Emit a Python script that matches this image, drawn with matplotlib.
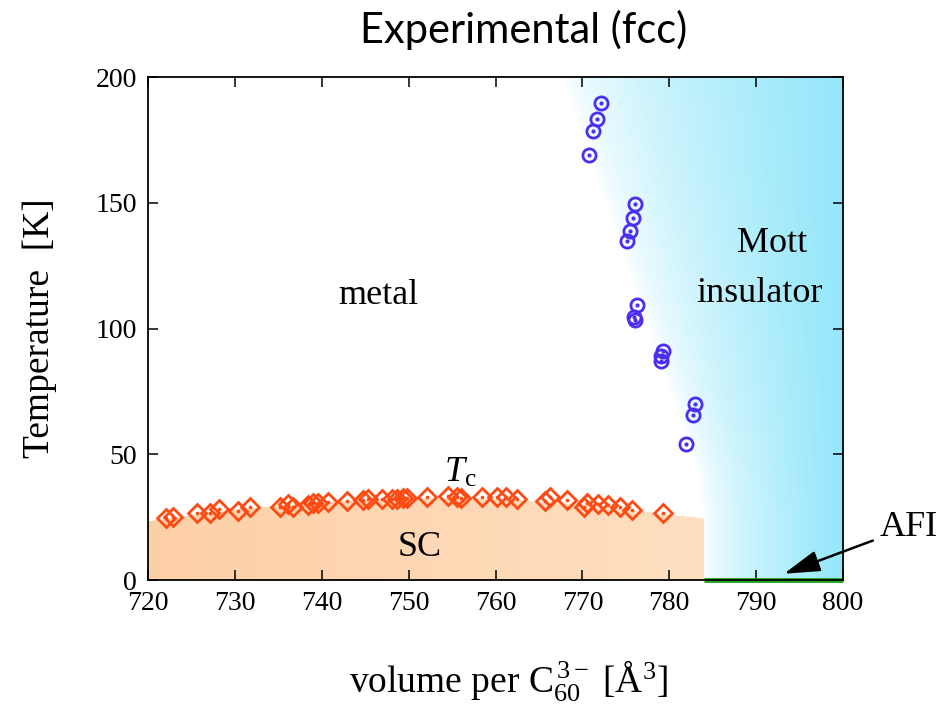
import numpy as np
import matplotlib
matplotlib.use("Agg")
import matplotlib.pyplot as plt
from matplotlib.patches import Polygon

plt.rcParams['font.family'] = ['Liberation Serif', 'DejaVu Serif']
plt.rcParams['mathtext.fontset'] = 'custom'
plt.rcParams['mathtext.rm'] = 'Liberation Serif'
plt.rcParams['mathtext.it'] = 'Liberation Serif:italic'

# Tc (diamonds)
sc_vol = [722.1, 722.9, 725.6, 727.1, 728.2, 730.4, 731.7, 735.2, 736.1, 736.7,
          738.4, 739.0, 739.6, 740.7, 742.9, 744.7, 745.3, 746.9, 748.1, 748.7,
          749.3, 749.8, 752.1, 754.5, 755.6, 756.0, 758.4, 760.2, 761.2, 762.5,
          765.7, 766.3, 768.2, 770.2, 770.5, 771.8, 772.9, 774.3, 775.7, 779.3]
sc_tc = [24.7, 25.0, 26.6, 26.6, 28.2, 27.4, 29.0, 29.0, 30.2, 29.0,
         29.8, 30.6, 30.6, 31.0, 31.4, 31.8, 32.2, 32.2, 32.2, 32.2,
         32.6, 32.6, 33.0, 33.4, 33.0, 32.6, 33.0, 33.0, 33.0, 32.2,
         31.4, 33.0, 31.8, 29.0, 30.6, 30.2, 29.8, 29.0, 27.8, 26.6]

# metal-insulator transition (circles)
mit_vol = [772.1, 771.7, 771.2, 770.8, 776.1, 775.8, 775.5, 775.1,
           776.3, 776.0, 775.9, 779.3, 779.1, 779.0, 783.0, 782.7, 781.9]
mit_t = [189.8, 183.2, 178.7, 169.0, 149.5, 144.1, 138.9, 134.9,
         109.3, 103.4, 104.4, 91.2, 89.1, 87.2, 69.9, 65.6, 54.1]

# phase boundaries
sc_edge_vol = [720, 722, 730, 740, 750, 760, 770, 780, 784]
sc_edge_t = [23.3, 24.3, 28.0, 31.0, 32.3, 32.3, 30.0, 26.0, 24.5]
mott_edge_t = [0, 24, 44, 200]
mott_edge_vol = [784.0, 784.0, 783.3, 767.7]

W, H = 943, 707
fig = plt.figure(figsize=(W / 100, H / 100), dpi=100)
ax = fig.add_axes([0.157, 0.1796, 0.737, 0.7114])

# Mott insulator region: white -> cyan gradient away from the boundary
vv, tt = np.meshgrid(np.linspace(720, 800, 800), np.linspace(0, 200, 400))
vb = np.interp(tt, mott_edge_t, mott_edge_vol)
frac = np.clip((vv - vb) / (800 - vb), 0, 1) ** 0.65
cyan = np.array([0.58, 0.905, 0.98])
img = np.ones(vv.shape + (3,)) * (1 - frac[..., None]) + cyan * frac[..., None]
mott_poly = Polygon(list(zip(mott_edge_vol[::-1], mott_edge_t[::-1])) + [(800, 0), (800, 200)],
                    closed=True, transform=ax.transData, facecolor='none', edgecolor='none')
ax.add_patch(mott_poly)
im = ax.imshow(img, extent=[720, 800, 0, 200], origin='lower', aspect='auto',
               interpolation='bilinear', zorder=0)
im.set_clip_path(mott_poly)

# SC dome, light peach with slight horizontal gradient
sc_poly = Polygon([(720, 0)] + list(zip(sc_edge_vol, sc_edge_t)) + [(784, 0)],
                  closed=True, transform=ax.transData, facecolor='none', edgecolor='none')
ax.add_patch(sc_poly)
g = np.linspace(0, 1, 400)[None, :, None]
left = np.array([0.992, 0.815, 0.655])
right = np.array([1.0, 0.875, 0.755])
sc_img = np.repeat(left * (1 - g) + right * g, 2, axis=0)
im2 = ax.imshow(sc_img, extent=[720, 784, 0, 40], origin='lower', aspect='auto',
                interpolation='bilinear', zorder=0.5)
im2.set_clip_path(sc_poly)
ax.set_xlim(720, 800)
ax.set_ylim(0, 200)

# AFI line
ax.plot([784, 800], [0, 0], color='#1fa51f', lw=3.5, solid_capstyle='butt',
        clip_on=False, zorder=3)

red = '#ff4a14'
ax.plot(sc_vol, sc_tc, 'D', ms=9, mfc='none', mec=red, mew=2.0, zorder=4)
ax.plot(sc_vol, sc_tc, 'o', ms=1.6, mfc=red, mec=red, zorder=4)
blue = '#4b2ef2'
ax.plot(mit_vol, mit_t, 'o', ms=9.5, mfc='none', mec=blue, mew=2.0, zorder=4)
ax.plot(mit_vol, mit_t, 'o', ms=2.0, mfc=blue, mec=blue, zorder=4)

ax.text(746.5, 113, 'metal', fontsize=26, ha='center', va='center')
ax.text(791.8, 134, 'Mott', fontsize=26, ha='center', va='center')
ax.text(790.4, 114, 'insulator', fontsize=26, ha='center', va='center')
ax.text(751.3, 13, 'SC', fontsize=26, ha='center', va='center')
ax.text(755.9, 42.5, r'$T_\mathrm{c}$', fontsize=26, ha='center', va='center')

ax.annotate('AFI', xy=(793.2, 2.5), xytext=(804.2, 21), fontsize=26,
            ha='left', va='center', annotation_clip=False,
            arrowprops=dict(arrowstyle='-|>,head_length=0.85,head_width=0.25',
                            color='black', lw=1.8, shrinkA=3, shrinkB=0))

ax.set_xticks(np.arange(720, 801, 10))
ax.set_yticks(np.arange(0, 201, 50))
ax.tick_params(direction='in', length=7, width=1.1, top=True, right=True,
               labelsize=20, pad=8, labelfontfamily='Liberation Serif')
for s in ax.spines.values():
    s.set_linewidth(1.3)
    s.set_zorder(5)

ax.set_ylabel('Temperature  [K]', fontsize=27, labelpad=28)
fig.text(0.555, 0.957, 'Experimental (fcc)', fontsize=30, family='Lato',
         ha='center', va='center')

# x label
fig.text(508 / W, 1 - 692 / H, r'volume per C$_{60}^{\,3-}$ [Å$^3$]', fontsize=27,
         ha='center', va='baseline')

fig.savefig('out.png', dpi=100)
